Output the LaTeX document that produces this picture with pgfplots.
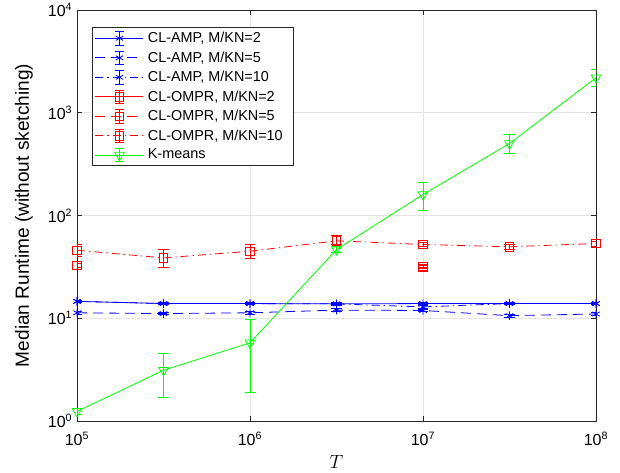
\documentclass[border=0pt]{standalone}
\usepackage{fontspec}
\setmainfont{Liberation Sans}
\usepackage{pgfplots}
\usepackage{pgfplotstable}
\pgfplotsset{compat=1.18}
\definecolor{axgray}{gray}{0.15}
\definecolor{mblue}{rgb}{0,0,1}
\definecolor{mred}{rgb}{1,0,0}
\definecolor{mgreen}{rgb}{0,1,0}

\pgfplotstableread{
x y ep em
100000 14.6 0.35 0.35
316228 13.9 0.3 0.3
1000000 13.9 0.3 0.3
3162278 13.8 0.35 0.35
10000000 13.9 0.35 0.35
31622777 13.9 0.3 0.3
100000000 13.9 0.3 0.3
}\ampTwo
\pgfplotstableread{
x y ep em
100000 11.3 0.3 0.3
316228 11.1 0.3 0.3
1000000 11.3 0.3 0.3
3162278 12.0 0.4 0.4
10000000 11.9 0.35 0.35
31622777 10.6 0.3 0.3
100000000 11.0 0.3 0.3
}\ampFive
\pgfplotstableread{
x y ep em
100000 14.6 0.3 0.3
316228 13.9 0.3 0.3
1000000 13.9 0.3 0.3
3162278 13.8 0.3 0.3
10000000 12.9 0.3 0.3
31622777 13.9 0.3 0.3
100000000 13.9 0.3 0.3
}\ampTen
\pgfplotstableread{
x y ep em
100000 32.6 1.3 1.3
316228 nan 0 0
1000000 nan 0 0
3162278 nan 0 0
10000000 32.1 1.0 1.0
31622777 nan 0 0
100000000 nan 0 0
}\omprTwo
\pgfplotstableread{
x y ep em
10000000 31.6 0.8 0.8
}\omprFive
\pgfplotstableread{
x y ep em
100000 45.9 6.1 5.9
316228 38.7 8.3 7.1
1000000 44.9 7.1 6.9
3162278 56.7 7.0 4.5
10000000 52.2 2.0 2.0
31622777 49.6 3.0 3.0
100000000 53.4 3.0 3.0
}\omprTen
\pgfplotstableread{
x y ep em
100000 1.24 0.08 0.08
316228 3.12 1.38 1.44
1000000 5.76 3.94 3.86
3162278 46.6 3.0 3.0
10000000 160 48 47
31622777 502 113 100
100000000 2193 437 378
}\kmeans

\pgfplotsset{
  legimg/.style n args={4}{legend image code/.code={
    \draw[#2, line width=0.6pt, draw=#1] (0pt,0pt) -- (36pt,0pt);
    \draw[line width=0.6pt, draw=#1] (18pt,-5pt) -- (18pt,5pt) (14.5pt,-5pt) -- (21.5pt,-5pt) (14.5pt,5pt) -- (21.5pt,5pt);
    \draw[line width=0.6pt, draw=#1] plot[only marks, mark=#3, mark size=3.2pt, mark options={draw=#1, fill=none, #4}] coordinates {(18pt,0pt)};
  }},
  ser line/.style 2 args={#2, line width=0.6pt, color=#1, draw=#1, mark=none, forget plot},
  ser marks/.style n args={3}{line width=0.6pt, color=#1, draw=#1, only marks, mark=#2, mark size=3.2pt, forget plot,
    mark options={line width=0.6pt, draw=#1, fill=none, #3},
    error bars/.cd, y dir=both, y explicit,
    error bar style={line width=0.6pt, color=#1, draw=#1},
    error mark options={line width=0.6pt, rotate=90, mark size=3.8pt, color=#1, draw=#1}},
}
\begin{document}
\begin{tikzpicture}
\useasboundingbox (-57.75pt,-39pt) rectangle (407.25pt,315.75pt);
\begin{axis}[
  at={(0,0)}, anchor=south west, scale only axis,
  width=389.25pt, height=308.25pt,
  xmode=log, ymode=log, log basis x=10, log basis y=10,
  xmin=1e5, xmax=1e8, ymin=1, ymax=1e4,
  xtick={1e5,1e6,1e7,1e8}, ytick={1,10,100,1000,10000},
  grid=both,
  major grid style={line width=0.6pt, gray!20},
  minor grid style={dotted, line width=0.6pt, gray!50},
  axis line style={line width=0.6pt, axgray},
  tick style={line width=0.6pt, axgray},
  tick align=inside,
  major tick length=3.75pt, minor tick length=2.2pt,
  /pgf/number format/assume math mode=true,
  log number format basis/.code 2 args={#1\textsuperscript{\pgfmathprintnumber{#2}}},
  ticklabel style={font=\fontsize{12}{14}\selectfont},
  xticklabel style={yshift=-5pt},
  xlabel={$T$},
  xlabel style={font=\fontsize{14}{16}\selectfont, at={(axis description cs:0.5,0)}, anchor=center, yshift=-30.5pt},
  ylabel={Median Runtime (without sketching)},
  ylabel style={font=\fontsize{14.3}{16}\selectfont, at={(axis description cs:-0.1021,0.5)}, anchor=center},
  unbounded coords=jump,
  legend cell align=left,
  legend style={at={(0.0289,0.9586)}, anchor=north west, line width=0.6pt, draw=axgray,
    font=\fontsize{10.8}{12}\selectfont, inner xsep=2pt, inner ysep=1.5pt, row sep=1.3pt,
    /tikz/every odd column/.append style={column sep=1pt}},
]
% lines
\addplot[ser line={mblue}{dash pattern=on 6pt off 3pt on 1pt off 3pt}] table[x=x,y=y] {\ampTen};
\addplot[ser line={mblue}{dash pattern=on 7.5pt off 4.5pt}] table[x=x,y=y] {\ampFive};
\addplot[ser line={mblue}{}] table[x=x,y=y] {\ampTwo};
\addplot[ser line={mred}{}] table[x=x,y=y] {\omprTwo};
\addplot[ser line={mred}{dash pattern=on 6pt off 3pt on 1pt off 3pt}] table[x=x,y=y] {\omprTen};
\addplot[ser line={mgreen}{}] table[x=x,y=y] {\kmeans};
% marks and error bars
\addplot[ser marks={mblue}{asterisk}{}] table[x=x,y=y,y error plus=ep,y error minus=em] {\ampTen};
\addplot[ser marks={mblue}{asterisk}{}] table[x=x,y=y,y error plus=ep,y error minus=em] {\ampFive};
\addplot[ser marks={mblue}{asterisk}{}] table[x=x,y=y,y error plus=ep,y error minus=em] {\ampTwo};
\addplot[ser marks={mred}{square}{}] table[x=x,y=y,y error plus=ep,y error minus=em] {\omprTwo};
\addplot[ser marks={mred}{square}{}] table[x=x,y=y,y error plus=ep,y error minus=em] {\omprFive};
\addplot[ser marks={mred}{square}{}] table[x=x,y=y,y error plus=ep,y error minus=em] {\omprTen};
\addplot[ser marks={mgreen}{triangle}{rotate=180, scale=1.3}] table[x=x,y=y,y error plus=ep,y error minus=em] {\kmeans};
% legend
\addlegendimage{legimg={mblue}{}{asterisk}{}}
\addlegendentry{CL-AMP, M/KN=2}
\addlegendimage{legimg={mblue}{dash pattern=on 7.5pt off 4.5pt}{asterisk}{}}
\addlegendentry{CL-AMP, M/KN=5}
\addlegendimage{legimg={mblue}{dash pattern=on 6pt off 3pt on 1pt off 3pt}{asterisk}{}}
\addlegendentry{CL-AMP, M/KN=10}
\addlegendimage{legimg={mred}{}{square}{}}
\addlegendentry{CL-OMPR, M/KN=2}
\addlegendimage{legimg={mred}{dash pattern=on 7.5pt off 4.5pt}{square}{}}
\addlegendentry{CL-OMPR, M/KN=5}
\addlegendimage{legimg={mred}{dash pattern=on 6pt off 3pt on 1pt off 3pt}{square}{}}
\addlegendentry{CL-OMPR, M/KN=10\hspace*{4pt}}
\addlegendimage{legimg={mgreen}{}{triangle}{rotate=180, scale=1.3}}
\addlegendentry{K-means}
\end{axis}
\end{tikzpicture}
\end{document}
